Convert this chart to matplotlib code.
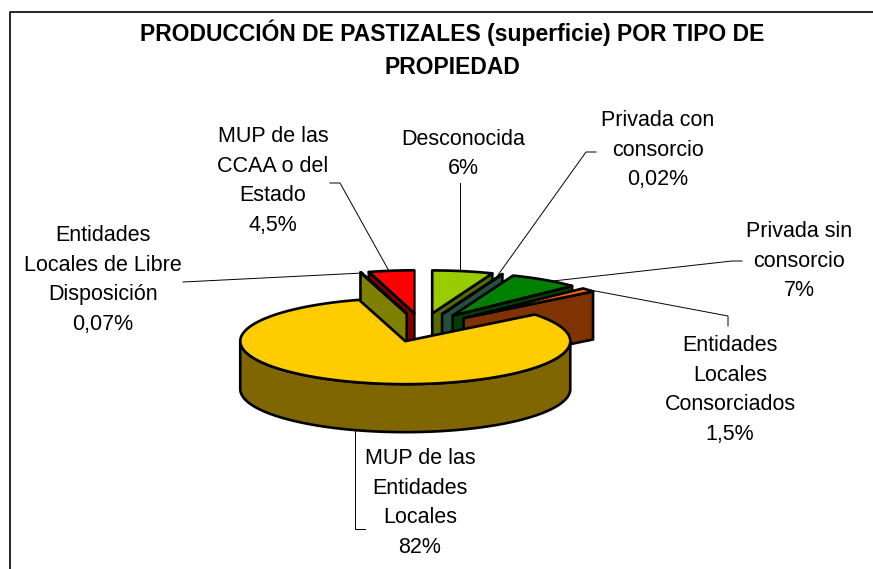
#!/usr/bin/env python3
"""Tarta 3D separada: producción de pastizales por tipo de propiedad."""

import numpy as np
import matplotlib
matplotlib.use("Agg")
import matplotlib.pyplot as plt
from matplotlib.patches import Polygon

plt.rcParams["font.family"] = ["Liberation Sans", "DejaVu Sans"]

# === Datos ===
TITLE = "PRODUCCIÓN DE PASTIZALES (superficie) POR TIPO DE\nPROPIEDAD"
LABELS = [
    "Desconocida\n6%",
    "Privada con\nconsorcio\n0,02%",
    "Privada sin\nconsorcio\n7%",
    "Entidades\nLocales\nConsorciados\n1,5%",
    "MUP de las\nEntidades\nLocales\n82%",
    "Entidades\nLocales de Libre\nDisposición\n0,07%",
    "MUP de las\nCCAA o del\nEstado\n4,5%",
]
VALUES = [6, 0.02, 7, 1.5, 82, 0.07, 4.5]
TOP_COLORS = ["#99CC00", "#339966", "#008000", "#FF6600", "#FFCC00", "#FFFF00", "#FF0000"]
SIDE_COLORS = ["#566B00", "#215040", "#004000", "#803300", "#806600", "#808000", "#800000"]

# === Geometría de la tarta (en píxeles) ===
CX, CY = 422, 327.5
RX, RY = 165, 43
DEPTH = 48
EXPLODE = 1 / 3

# centro de cada etiqueta
LABEL_POS = [(463, 154), (658, 150), (799, 261), (730, 390),
             (420, 503), (103, 280), (273, 181)]

# líneas guía de las etiquetas
LEADERS = [
    [(460, 183), (460, 271)],
    [(596, 152), (586, 152), (498, 275)],
    [(742, 261), (732, 261), (553, 281)],
    [(728, 326), (728, 316), (590, 290)],
    [(365, 529), (355, 529), (355, 431)],
    [(183, 282), (363, 273)],
    [(330, 183), (340, 183), (389, 271)],
]


def rim(x0, y0, angle):
    """Punto del borde a un ángulo (grados, horario desde arriba)."""
    rad = np.radians(angle)
    return x0 + RX * np.sin(rad), y0 - RY * np.cos(rad)


def draw_slice(ax, a0, a1, top, side):
    mid = np.radians((a0 + a1) / 2)
    x0 = CX + EXPLODE * RX * np.sin(mid)
    y0 = CY - EXPLODE * RY * np.cos(mid)
    style = dict(edgecolor="black", linewidth=1.9, joinstyle="round")

    # paredes radiales que miran al espectador
    if np.sin(np.radians(a0)) < 0:
        x, y = rim(x0, y0, a0)
        ax.add_patch(Polygon([(x0, y0), (x, y), (x, y + DEPTH), (x0, y0 + DEPTH)],
                             facecolor=side, **style))
    if np.sin(np.radians(a1)) > 0.01:
        x, y = rim(x0, y0, a1)
        ax.add_patch(Polygon([(x0, y0), (x, y), (x, y + DEPTH), (x0, y0 + DEPTH)],
                             facecolor=side, **style))

    # pared curva exterior (solo la parte frontal)
    w0, w1 = max(a0, 90), min(a1, 270)
    if w1 > w0:
        xs, ys = rim(x0, y0, np.linspace(w0, w1, 120))
        pts = list(zip(xs, ys)) + list(zip(xs[::-1], ys[::-1] + DEPTH))
        ax.add_patch(Polygon(pts, facecolor=side, **style))

    # cara superior
    xs, ys = rim(x0, y0, np.linspace(a0, a1, 200))
    ax.add_patch(Polygon([(x0, y0)] + list(zip(xs, ys)), facecolor=top, **style))


fig = plt.figure(figsize=(8.73, 5.69), dpi=100)
ax = fig.add_axes([0, 0, 1, 1])
ax.set_xlim(0, 873)
ax.set_ylim(569, 0)
ax.axis("off")

# marco (solo arriba e izquierda quedan dentro de la imagen)
ax.plot([10, 10, 873], [569, 11.5, 11.5], color="black", linewidth=1.2)

# ángulos acumulados a partir de los valores
edges = np.concatenate([[0], np.cumsum(VALUES)]) / sum(VALUES) * 360
slices = [(edges[i], edges[i + 1], TOP_COLORS[i], SIDE_COLORS[i]) for i in range(len(VALUES))]

# de atrás hacia delante
slices.sort(key=lambda s: -np.cos(np.radians((s[0] + s[1]) / 2)))
for a0, a1, top, side in slices:
    draw_slice(ax, a0, a1, top, side)

for line in LEADERS:
    xs, ys = zip(*line)
    ax.plot(xs, ys, color="black", linewidth=0.7)

for label, (x, y) in zip(LABELS, LABEL_POS):
    ax.text(x, y, label, ha="center", va="center", fontsize=15.5, linespacing=1.54)

ax.text(452, 49, TITLE, ha="center", va="center", fontsize=16.5,
        fontweight="bold", linespacing=1.53)

plt.savefig("out.png", dpi=100)
